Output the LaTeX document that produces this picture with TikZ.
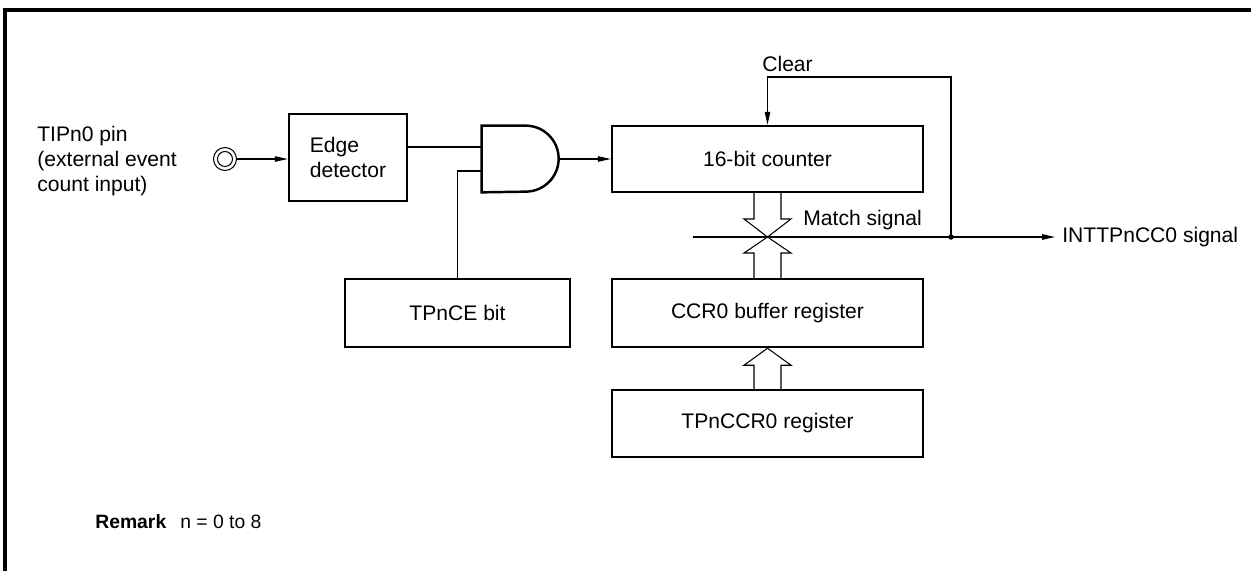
\documentclass[tikz,border=0pt]{standalone}
\usepackage{fontspec}
\setmainfont{Liberation Sans}
\usetikzlibrary{arrows.meta,calc,positioning}

% hollow bus arrow: base point, tip point, offset of the head base from the tip
\newcommand{\busarrow}[3]{%
  \draw[wire] ($(#1)+(-0.27,0)$) -- ($(#2)+(-0.27,#3)$) -- ($(#2)+(-0.47,#3)$) -- (#2)
    -- ($(#2)+(0.47,#3)$) -- ($(#2)+(0.27,#3)$) -- ($(#1)+(0.27,0)$);}

\begin{document}
\begin{tikzpicture}[
    font=\fontsize{12}{14}\selectfont,
    block/.style={draw, line width=1.4pt, inner sep=0pt},
    wire/.style={line width=0.6pt},
    sig/.style={wire, -{Triangle[length=2.6mm, width=1.1mm]}},
    lbl/.style={anchor=west, inner sep=0pt}]

  \useasboundingbox (0,0) rectangle (25.02,11.42);

  % --- Frame ---
  \draw[line width=1.8pt] (0.1,0) -- (0.1,11.22) -- (25.1,11.22);

  % --- Input pin ---
  \node[draw, circle, wire, minimum size=0.46cm, inner sep=0pt] (pin) at (4.5,8.24) {};
  \draw[wire] (pin.center) circle (0.15);
  \node[anchor=west, align=left, inner sep=0pt] (pinlabel) at (0.74,8.2) {TIPn0 pin\\(external event\\count input)};

  % --- Blocks ---
  \node[block, minimum width=2.36cm, minimum height=1.74cm, align=left] (edge) at (6.96,8.27) {Edge\\detector};
  \node[block, minimum width=4.5cm, minimum height=1.36cm] (ce) at (9.15,5.16) {TPnCE bit};
  \node[block, minimum width=6.22cm, minimum height=1.32cm] (counter) at (15.35,8.24) {16-bit counter};
  \node[block, minimum width=6.22cm, minimum height=1.36cm] (buffer) at (15.35,5.16) {CCR0 buffer register};
  \node[block, minimum width=6.22cm, minimum height=1.34cm] (ccr) at (15.35,2.95) {TPnCCR0 register};

  % --- AND gate ---
  \node[minimum width=1.54cm, minimum height=1.32cm, inner sep=0pt] (and) at (10.41,8.24) {};
  \draw[line width=1.4pt] (and.north west) -- ++(0.88,0) arc (90:-90:0.66) -- (and.south west) -- cycle;
  \coordinate (in1) at ($(and.west)+(0,0.24)$);
  \coordinate (in2) at ($(and.west)+(0,-0.24)$);

  % --- Connectors ---
  \draw[sig] (pin) -- (edge.west |- pin);
  \draw[wire] (edge.east |- in1) -- (in1);
  \draw[wire] (ce.north) |- (in2);
  \draw[sig] (and.east) -- (counter.west);

  % --- Match signal ---
  \coordinate (cross) at (counter.south |- 0,6.68);
  \coordinate (mstart) at (13.86,6.68);
  \coordinate (tap) at (19.02,6.68);
  \node[anchor=west, inner sep=0.14cm] (int) at (21.1,6.68) {INTTPnCC0 signal};
  \draw[wire] (mstart) -- (cross);
  \draw[sig] (cross) -- (int.west);
  \fill (tap) circle (0.055);
  \node[lbl] (matchlabel) at (16.06,7.02) {Match signal};

  % --- Clear ---
  \draw[sig] (tap) -- (19.02,9.88) -| (counter.north);
  \node[lbl] (clear) at (15.24,10.14) {Clear};

  % --- Bus arrows ---
  \busarrow{counter.south}{cross}{0.36}
  \busarrow{buffer.north}{cross}{-0.32}
  \busarrow{ccr.north}{buffer.south}{-0.34}

  % --- Remark ---
  \node[lbl, font=\fontsize{11}{13}\selectfont\bfseries] (remark) at (1.9,0.98) {Remark};
  \node[lbl, font=\fontsize{11}{13}\selectfont] (remarkval) at (3.6,0.98) {n = 0 to 8};

\end{tikzpicture}
\end{document}
